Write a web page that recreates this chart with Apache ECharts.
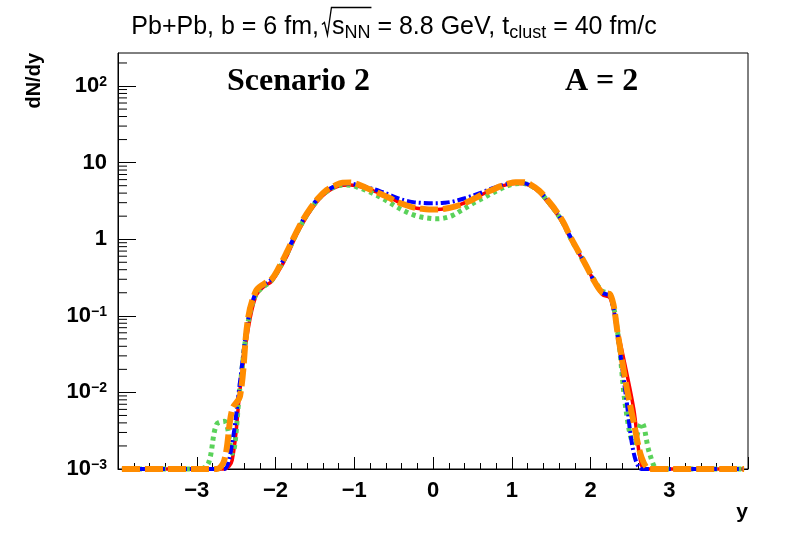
<!DOCTYPE html>
<html><head><meta charset="utf-8">
<script src="https://cdn.jsdelivr.net/npm/echarts@6/dist/echarts.min.js"></script>
<style>html,body{margin:0;padding:0;background:#fff}#c{width:788px;height:534px}</style>
</head><body><div id="c"></div>
<script>
const xCenters = [-3.95,-3.85,-3.75,-3.65,-3.55,-3.45,-3.35,-3.25,-3.15,-3.05,-2.95,
 -2.85,-2.75,-2.65,-2.55,-2.45,-2.35,-2.25,-2.15,-2.05,-1.95,-1.85,-1.75,-1.65,-1.55,-1.45,-1.35,-1.25,-1.15,-1.05,
 -0.95,-0.85,-0.75,-0.65,-0.55,-0.45,-0.35,-0.25,-0.15,-0.05,0.05,0.15,0.25,0.35,0.45,0.55,0.65,0.75,0.85,0.95,
 1.05,1.15,1.25,1.35,1.45,1.55,1.65,1.75,1.85,1.95,2.05,2.15,2.25,2.35,2.45,2.55,2.65,2.75,
 2.85,2.95,3.05,3.15,3.25,3.35,3.45,3.55,3.65,3.75,3.85,3.95];
const redValues = [.001,.001,.001,.001,.001,.001,.001,.001,.001,.001,.001,
 .001,.001,.001,.0013,.011,.065,.18,.24,.28,.4,.62,1.05,1.65,2.4,3.3,4.1,4.7,5.05,5.1,
 4.9,4.6,4.25,3.9,3.5,3.1,2.8,2.6,2.5,2.45,2.45,2.5,2.65,2.85,3.15,3.55,3.95,4.4,4.85,5.2,
 5.35,5.3,4.9,4.1,3.1,2.3,1.6,1.0,.66,.43,.28,.19,.17,.06,.02,.006,.0011,.001,
 .001,.001,.001,.001,.001,.001,.001,.001,.001,.001,.001,.001];
const blueValues = [.001,.001,.001,.001,.001,.001,.001,.001,.001,.001,.001,
 .001,.001,.001,.0022,.014,.085,.2,.25,.3,.43,.68,1.15,1.8,2.6,3.5,4.3,4.9,5.25,5.3,
 5.1,4.8,4.5,4.15,3.8,3.45,3.2,3.05,2.98,2.95,2.95,3.0,3.1,3.3,3.55,3.85,4.2,4.6,5.0,5.3,
 5.45,5.4,5.0,4.25,3.25,2.4,1.65,1.05,.68,.44,.28,.2,.18,.05,.009,.0016,.001,.001,
 .001,.001,.001,.001,.001,.001,.001,.001,.001,.001,.001,.001];
const greenValues = [.001,.001,.001,.001,.001,.001,.001,.001,.001,.001,.001,
 .0012,.0038,.0042,.0016,.012,.08,.19,.24,.29,.42,.66,1.1,1.72,2.5,3.4,4.2,4.8,5.1,5.05,
 4.75,4.35,3.9,3.45,3.0,2.6,2.3,2.08,1.95,1.88,1.85,1.9,2.05,2.35,2.7,3.1,3.5,4.0,4.5,5.0,
 5.3,5.35,4.95,4.2,3.2,2.35,1.65,1.02,.67,.44,.29,.21,.19,.055,.006,.0022,.004,.0016,
 .001,.001,.001,.001,.001,.001,.001,.001,.001,.001,.001,.001];
const orangeValues = [.001,.001,.001,.001,.001,.001,.001,.001,.001,.001,.001,
 .001,.001,.0013,.006,.009,.09,.21,.26,.3,.44,.7,1.15,1.8,2.6,3.5,4.4,5.0,5.45,5.5,
 5.2,4.7,4.25,3.85,3.45,3.05,2.8,2.6,2.5,2.45,2.45,2.5,2.62,2.82,3.1,3.5,3.95,4.4,4.9,5.3,
 5.55,5.55,5.1,4.3,3.3,2.45,1.7,1.05,.68,.44,.28,.2,.19,.055,.013,.004,.0014,.001,
 .001,.001,.001,.001,.001,.001,.001,.001,.001,.001,.001,.001];
const yMinorTicks = [.002,.003,.004,.005,.006,.007,.008,.009,
 .02,.03,.04,.05,.06,.07,.08,.09,
 .2,.3,.4,.5,.6,.7,.8,.9,
 2,3,4,5,6,7,8,9,
 20,30,40,50,60,70,80,90,
 200];
const yTickLabels = {'-3':'10{s|\u22123}','-2':'10{s|\u22122}','-1':'10{s|\u22121}','0':'1','1':'10','2':'10{s|2}'};
const xTickLabels = {'-3':'\u22123','-2':'\u22122','-1':'\u22121','0':'0','1':'1','2':'2','3':'3'};
const titleParts = ['Pb+Pb, b = 6 fm,', 's', 'NN', ' = 8.8 GeV, t', 'clust', ' = 40 fm/c'];

const FONT = 'Liberation Sans';
const MAIN_PX = 25, SUB_PX = 18, SQRT_GAP = 13;
const ctx = document.createElement('canvas').getContext('2d');
function tw(t, px) { ctx.font = px + 'px "' + FONT + '"'; return ctx.measureText(t).width; }
const wParts = [tw(titleParts[0],MAIN_PX), SQRT_GAP, tw(titleParts[1],MAIN_PX), tw(titleParts[2],SUB_PX),
  tw(titleParts[3],MAIN_PX), tw(titleParts[4],SUB_PX), tw(titleParts[5],MAIN_PX)];
const titleW = wParts.reduce((a,b)=>a+b,0);
const titleCx = 394;
const tStart = titleCx - titleW/2;
const sqX = tStart + wParts[0] + 3;
const barEnd = tStart + wParts[0] + wParts[1] + wParts[2] + wParts[3] + 1;

const chart = echarts.init(document.getElementById('c'), null, {renderer:'canvas'});
const pairs = v => xCenters.map((x,i)=>[x, v[i]]);
function lineSeries(name, vals, color, width, dash, z) {
  return {name, type:'line', data:pairs(vals), symbol:'none', smooth:0.35, clip:false, z,
    lineStyle:{color, width, type:dash, cap:'butt', join:'round'}};
}
chart.setOption({
  animation:false,
  grid:{left:118, right:40, top:53, bottom:65, show:true, borderColor:'#000', borderWidth:1, backgroundColor:'transparent'},
  xAxis:{type:'value', min:-4, max:4, interval:1,
    axisLine:{show:true, onZero:false, lineStyle:{color:'#000', width:1}},
    axisTick:{show:true, inside:true, length:12, lineStyle:{color:'#000'}},
    minorTick:{show:true, splitNumber:5, length:6, lineStyle:{color:'#000'}},
    splitLine:{show:false},
    axisLabel:{margin:11, color:'#000', fontFamily:FONT, fontWeight:'bold', fontSize:22,
      showMinLabel:false, showMaxLabel:false,
      formatter:v=>xTickLabels[String(Math.round(v))] ?? ''}},
  yAxis:{type:'log', logBase:10, min:0.001, max:270,
    axisLine:{show:true, onZero:false, lineStyle:{color:'#000', width:1}},
    axisTick:{show:true, inside:true, length:18, lineStyle:{color:'#000'}},
    splitLine:{show:false},
    axisLabel:{margin:11, color:'#000', fontFamily:FONT, fontWeight:'bold', fontSize:22, showMaxLabel:false,
      formatter:v=>{const e=Math.round(Math.log10(v)); return Math.abs(Math.log10(v)-e)<1e-6 ? (yTickLabels[String(e)] ?? '') : '';},
      rich:{s:{fontFamily:FONT, fontWeight:'bold', fontSize:14, lineHeight:14, verticalAlign:'top', color:'#000'}}}},
  series:[
    lineSeries('red', redValues, '#ff0000', 3.5, 'solid', 2),
    lineSeries('green', greenValues, '#5ad25a', 5, [4,4], 3),
    lineSeries('blue', blueValues, '#0000ff', 4, [9,3,2,3], 4),
    lineSeries('orange', orangeValues, '#ff8c00', 6, [18,5], 5),
    {type:'custom', data:yMinorTicks.map(v=>[-4,v]), silent:true, clip:false, z:6,
      renderItem:(params, api)=>{const p=api.coord([api.value(0), api.value(1)]);
        return {type:'line', shape:{x1:p[0], y1:p[1], x2:p[0]+9, y2:p[1]}, style:{stroke:'#000', lineWidth:1}};}}
  ],
  graphic:[
    {type:'text', x:titleCx, y:27, style:{
      text:'{n|'+titleParts[0]+'}{g| }{n|'+titleParts[1]+'}{sub|'+titleParts[2]+'}{n|'+titleParts[3]+'}{sub|'+titleParts[4]+'}{n|'+titleParts[5]+'}',
      align:'center', verticalAlign:'middle',
      rich:{n:{fontFamily:FONT, fontSize:MAIN_PX, lineHeight:30, fill:'#000'},
            g:{fontFamily:FONT, fontSize:MAIN_PX, lineHeight:30, width:SQRT_GAP, fill:'#000'},
            sub:{fontFamily:FONT, fontSize:SUB_PX, lineHeight:22, verticalAlign:'bottom', fill:'#000'}}}},
    {type:'polyline', shape:{points:[[sqX,24.5],[sqX+2.5,22.5],[sqX+5.5,35],[sqX+9.5,7.5],[barEnd,7.5]]},
      style:{stroke:'#000', lineWidth:1.3, fill:null}},
    {type:'text', x:227, y:82, style:{text:'Scenario 2', fontFamily:'Liberation Serif', fontWeight:'bold', fontSize:32, fill:'#000', align:'left', verticalAlign:'middle'}},
    {type:'text', x:565, y:82, style:{text:'A = 2', fontFamily:'Liberation Serif', fontWeight:'bold', fontSize:32, fill:'#000', align:'left', verticalAlign:'middle'}},
    {type:'text', x:34, y:53, rotation:Math.PI/2, style:{text:'dN/dy', fontFamily:FONT, fontWeight:'bold', fontSize:20, fill:'#000', align:'right', verticalAlign:'middle'}},
    {type:'text', x:748, y:512, style:{text:'y', fontFamily:FONT, fontWeight:'bold', fontSize:21, fill:'#000', align:'right', verticalAlign:'middle'}}
  ]
});
</script></body></html>
